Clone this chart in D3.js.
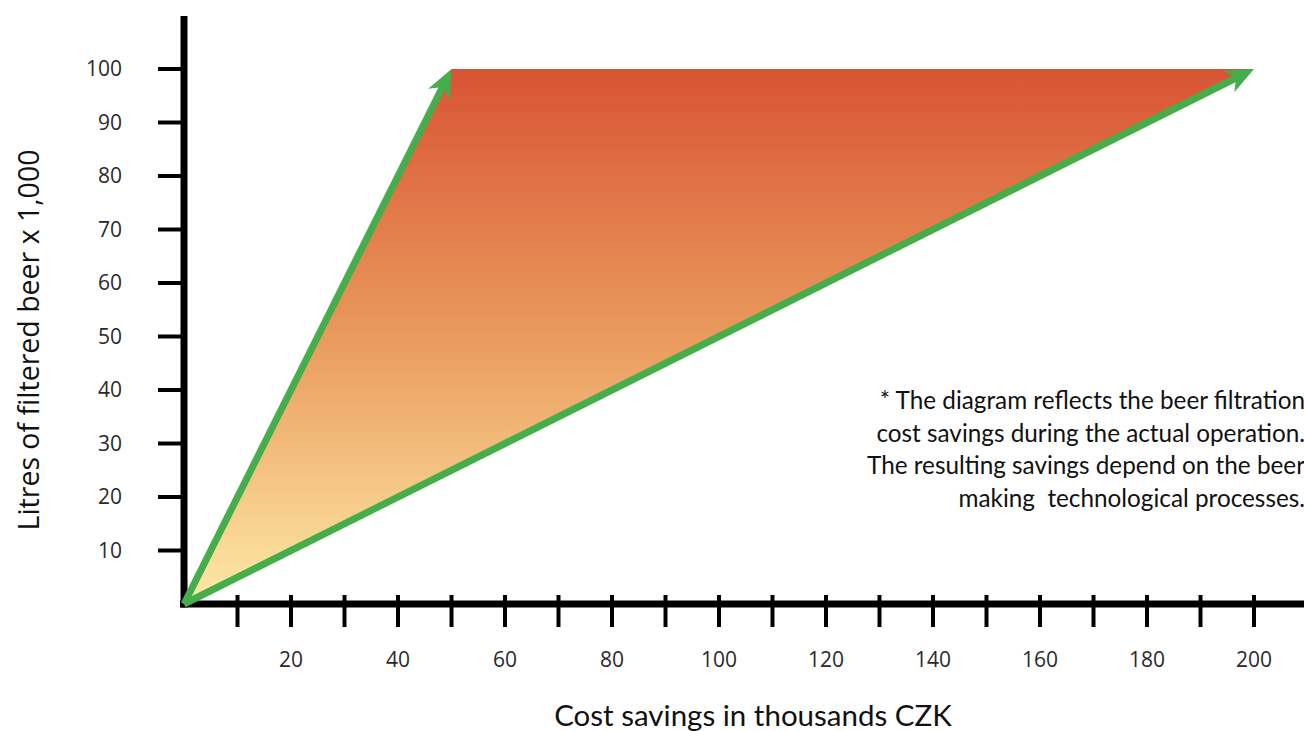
<!DOCTYPE html>
<html><head><meta charset="utf-8">
<script src="https://cdn.jsdelivr.net/npm/d3@7"></script>
<style>html,body{margin:0;padding:0;background:#fff;overflow:hidden}</style>
</head><body>
<svg id="c" width="1304" height="731"></svg>
<script>
// ---- data ----
const areaX = [0, 50, 200];          // cost savings (thousand CZK)
const areaY = [0, 100, 100];         // litres x 1,000
const arrowStart = [0, 0];
const arrowEndsX = [50, 200];
const arrowEndsY = [100, 100];
const xTicks = [10,20,30,40,50,60,70,80,90,100,110,120,130,140,150,160,170,180,190,200];
const xTickLabels = [20,40,60,80,100,120,140,160,180,200];
const yTicks = [10,20,30,40,50,60,70,80,90,100];
const note = ["* The diagram reflects the beer filtration",
              "cost savings during the actual operation.",
              "The resulting savings depend on the beer",
              "making  technological processes."];
const xTitle = "Cost savings in thousands CZK";
const yTitle = "Litres of filtered beer x 1,000";

const svg = d3.select("#c");
const x = d3.scaleLinear().domain([0,200]).range([184,1254]);
const y = d3.scaleLinear().domain([0,100]).range([604,69]);

const defs = svg.append("defs");
const g = defs.append("linearGradient").attr("id","grad")
  .attr("gradientUnits","userSpaceOnUse").attr("x1",0).attr("x2",0)
  .attr("y1",y(100)).attr("y2",y(0));
g.append("stop").attr("offset",0).attr("stop-color","#d85434");
g.append("stop").attr("offset",0.5).attr("stop-color","#e99a5c");
g.append("stop").attr("offset",1).attr("stop-color","#feeaa6");

// area
svg.append("path")
  .attr("d", d3.line().x((d,i)=>x(areaX[i])).y((d,i)=>y(areaY[i]))(areaX) + "Z")
  .attr("fill","url(#grad)");

// axes
const tickFont = "'Open Sans', sans-serif";
const xAxis = svg.append("g").attr("transform",`translate(0,${y(0)})`);
xAxis.append("line").attr("x1",180).attr("x2",1304).attr("y1",0).attr("y2",0)
  .attr("stroke","#000").attr("stroke-width",7);
xAxis.selectAll("line.t").data(xTicks).join("line").attr("class","t")
  .attr("x1",d=>x(d)).attr("x2",d=>x(d)).attr("y1",-9).attr("y2",23)
  .attr("stroke","#000").attr("stroke-width",4);
xAxis.selectAll("text").data(xTickLabels).join("text")
  .attr("x",d=>x(d)).attr("y",63).attr("text-anchor","middle")
  .attr("font-family",tickFont).attr("font-size",21).attr("fill","#2a2a2a")
  .text(d=>d);

const yAxis = svg.append("g").attr("transform",`translate(${x(0)},0)`);
yAxis.append("line").attr("x1",0).attr("x2",0).attr("y1",16).attr("y2",607.5)
  .attr("stroke","#000").attr("stroke-width",7);
yAxis.selectAll("line.t").data(yTicks).join("line").attr("class","t")
  .attr("x1",-26).attr("x2",3).attr("y1",d=>y(d)).attr("y2",d=>y(d))
  .attr("stroke","#000").attr("stroke-width",4);
yAxis.selectAll("text").data(yTicks).join("text")
  .attr("x",-62).attr("y",d=>y(d)).attr("dy","0.35em").attr("text-anchor","end")
  .attr("font-family",tickFont).attr("font-size",21).attr("fill","#2a2a2a")
  .text(d=>d);

// arrows
const green = "#45ad4b";
arrowEndsX.forEach((ex,i)=>{
  const x0 = x(arrowStart[0]), y0 = y(arrowStart[1]);
  const x1 = x(ex), y1 = y(arrowEndsY[i]);
  const dx = x1-x0, dy = y1-y0, L = Math.hypot(dx,dy);
  const ux = dx/L, uy = dy/L, px = -uy, py = ux;
  const hl = 28, hw = 12, notch = 19;
  svg.append("line").attr("x1",x0).attr("y1",y0)
    .attr("x2",x1-ux*notch).attr("y2",y1-uy*notch)
    .attr("stroke",green).attr("stroke-width",7);
  const pts = [[x1,y1],[x1-ux*hl+px*hw,y1-uy*hl+py*hw],[x1-ux*(notch+1),y1-uy*(notch+1)],[x1-ux*hl-px*hw,y1-uy*hl-py*hw]];
  svg.append("polygon").attr("points",pts.map(p=>p.join(",")).join(" ")).attr("fill",green);
});

// note
const nf = "Lato, sans-serif";
svg.append("g").selectAll("text").data(note).join("text")
  .attr("x",1305).attr("y",(d,i)=>409+i*32.5).attr("text-anchor","end")
  .attr("font-family",nf).attr("font-size",24.3).attr("fill","#111")
  .attr("xml:space","preserve").style("white-space","pre")
  .text(d=>d);

// titles
svg.append("text").attr("x",753).attr("y",726).attr("text-anchor","middle")
  .attr("font-family",nf).attr("font-size",29.5).attr("fill","#111").text(xTitle);
svg.append("text").attr("transform","translate(39,340) rotate(-90)").attr("text-anchor","middle")
  .attr("font-family","'Open Sans', sans-serif").attr("font-size",28.5).attr("fill","#111").text(yTitle);
</script>
</body></html>
